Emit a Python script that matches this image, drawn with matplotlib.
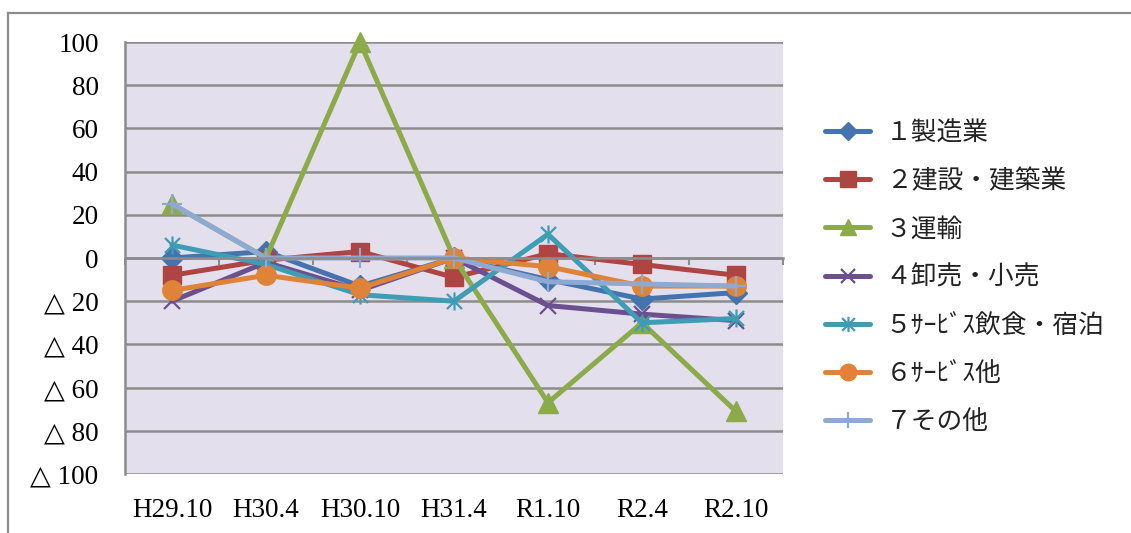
import matplotlib
matplotlib.use("Agg")
import matplotlib.pyplot as plt
from matplotlib.path import Path
from matplotlib.lines import Line2D

categories = ["H29.10", "H30.4", "H30.10", "H31.4", "R1.10", "R2.4", "R2.10"]
series_names = ["１製造業", "２建設・建築業", "３運輸", "４卸売・小売",
                "５ｻｰﾋﾞｽ飲食・宿泊", "６ｻｰﾋﾞｽ他", "７その他"]
manufacturing = [0, 3, -13, 0, -10, -19, -16]
construction = [-8, -1, 3, -9, 2, -3, -8]
transport = [25, 0, 100, 0, -67, -30, -71]
wholesale = [-20, -2, -15, 0, -22, -26, -29]
service_food = [6, -3, -17, -20, 11, -30, -28]
service_other = [-15, -8, -14, 0, -4, -13, -13]
other = [25, 0, 0, 0, -11, -12, -13]
yticks = [100, 80, 60, 40, 20, 0, -20, -40, -60, -80, -100]
ytick_labels = ["100", "80", "60", "40", "20", "0",
                "△ 20", "△ 40", "△ 60", "△ 80", "△ 100"]

star = Path([(-1, -1), (1, 1), (-1, 1), (1, -1), (0, -1.2), (0, 1.2)],
            [Path.MOVETO, Path.LINETO, Path.MOVETO, Path.LINETO, Path.MOVETO, Path.LINETO])

styles = [
    dict(color="#4473AE", marker="D", ms=11),
    dict(color="#AE4542", marker="s", ms=13.5),
    dict(color="#8BAB4A", marker="^", ms=14),
    dict(color="#6B5090", marker="x", ms=12, mew=1.6),
    dict(color="#3E9CB5", marker=star, ms=13, mew=1.6),
    dict(color="#DE8338", marker="o", ms=14),
    dict(color="#8FAAD2", marker="+", ms=14, mew=1.6),
]
data = [manufacturing, construction, transport, wholesale, service_food, service_other, other]

W, H = 1131, 533
fig = plt.figure(figsize=(W / 100, H / 100), dpi=100)
fig.patch.set_facecolor("white")

# outer chart frame
fig.add_artist(Line2D([8 / W, 1.0], [1 - 13 / H, 1 - 13 / H], color="#8C8C8C", lw=1.6))
fig.add_artist(Line2D([8 / W, 8 / W], [1 - 13 / H, 0], color="#8C8C8C", lw=1.6))

ax = fig.add_axes([125 / W, (H - 474) / H, (783 - 125) / W, (474 - 42) / H])
ax.set_facecolor("#E4DFEC")
x = list(range(len(categories)))
handles = []
for name, vals, st in zip(series_names, data, styles):
    h, = ax.plot(x, vals, color=st["color"], lw=3.6, marker=st["marker"],
                 ms=st["ms"], mew=st.get("mew", 1), mfc=st["color"], mec=st["color"],
                 label=name, solid_capstyle="round", solid_joinstyle="round", clip_on=False)
    handles.append(h)

serif = ["Liberation Serif", "DejaVu Sans"]
ax.set_xlim(-0.5, len(categories) - 0.5)
ax.set_ylim(-100, 100)
ax.set_yticks(yticks)
ax.set_yticklabels(ytick_labels, family=serif, fontsize=19.5)
ax.tick_params(axis="y", length=0, pad=19)
ax.grid(axis="y", color="#8C8C8C", lw=1.8)
ax.set_axisbelow(True)

for s in ["top", "right"]:
    ax.spines[s].set_visible(False)
ax.spines["left"].set_color("#8C8C8C")
ax.spines["left"].set_linewidth(1.8)
ax.spines["bottom"].set_position(("data", 0))
ax.spines["bottom"].set_color("#8C8C8C")
ax.spines["bottom"].set_linewidth(1.8)
ax.set_xticks([i - 0.5 for i in range(len(categories) + 1)])
ax.set_xticklabels([])
ax.tick_params(axis="x", direction="out", length=5, width=1.5, color="#8C8C8C")

for i, c in enumerate(categories):
    ax.annotate(c, xy=(i, 0), xycoords=("data", "axes fraction"),
                xytext=(0, -24), textcoords="offset pixels",
                ha="center", va="top", fontsize=19.5, family=serif)

leg = fig.legend(handles=handles, loc="upper left",
                 bbox_to_anchor=(815 / W, 1 - 110 / H),
                 frameon=False, handlelength=1.75, handletextpad=0.6,
                 labelspacing=0.86, borderaxespad=0, markerscale=0.85,
                 prop=dict(family=["Noto Sans CJK JP", "DejaVu Sans"], size=18.5))
for t in leg.get_texts():
    t.set_color("#222222")

fig.savefig("out.png", dpi=100)
